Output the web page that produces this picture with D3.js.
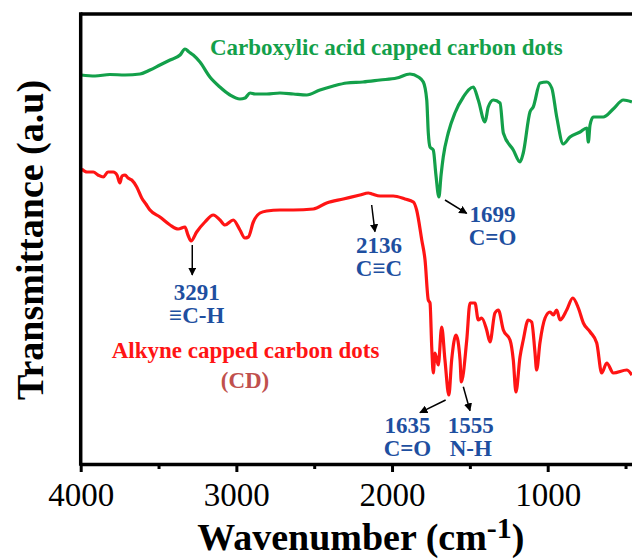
<!DOCTYPE html>
<html>
<head>
<meta charset="utf-8">
<script src="https://cdn.jsdelivr.net/npm/d3@7"></script>
<style>
  html, body { margin: 0; padding: 0; background: #fff; }
  svg { display: block; }
  text { font-family: "Liberation Serif", "Times New Roman", serif; }
</style>
</head>
<body>
<svg id="chart" width="632" height="559"></svg>
<script>
// FTIR spectra: wavenumber (cm-1) and transmittance (a.u., stacked offsets)
const carboxylWavenumber = [3998, 3908, 3812, 3715, 3619, 3555, 3491, 3426, 3362, 3330, 3304, 3277, 3234, 3170, 3106, 3041, 2977, 2944, 2912, 2880, 2805, 2720, 2634, 2548, 2463, 2377, 2291, 2187, 2077, 1970, 1885, 1831, 1799, 1777, 1767, 1756, 1735, 1718, 1699, 1685, 1671, 1639, 1596, 1542, 1478, 1446, 1403, 1382, 1349, 1306, 1285, 1221, 1178, 1157, 1114, 1093, 1049, 1006, 974, 942, 900, 857, 792, 749, 739, 728, 707, 643, 579, 514, 459];
const carboxylT = [38.9, 38.8, 38.95, 38.9, 39.0, 39.4, 39.9, 40.4, 40.9, 41.5, 41.2, 40.9, 40.2, 38.7, 37.7, 36.9, 36.5, 36.6, 37.1, 37.0, 37.0, 37.1, 37.0, 36.9, 37.4, 37.8, 38.1, 38.2, 38.4, 38.6, 39.0, 38.7, 38.2, 36.4, 33.1, 31.7, 31.4, 28.9, 26.7, 28.9, 30.7, 33.1, 35.1, 36.7, 37.7, 36.4, 34.2, 35.7, 36.4, 36.1, 33.1, 31.4, 30.2, 31.1, 35.2, 35.7, 38.1, 38.2, 37.6, 34.7, 32.0, 32.7, 33.2, 33.6, 32.2, 33.9, 34.7, 34.7, 35.5, 36.4, 36.2];

const alkyneWavenumber = [3994, 3960, 3919, 3889, 3855, 3825, 3791, 3767, 3748, 3735, 3715, 3696, 3672, 3640, 3608, 3581, 3555, 3491, 3426, 3373, 3330, 3311, 3291, 3255, 3202, 3148, 3105, 3073, 3020, 2977, 2945, 2923, 2891, 2848, 2805, 2720, 2634, 2506, 2420, 2313, 2206, 2152, 2129, 2077, 1992, 1917, 1863, 1842, 1809, 1788, 1767, 1756, 1745, 1735, 1724, 1703, 1681, 1660, 1635, 1617, 1589, 1563, 1555, 1520, 1499, 1467, 1446, 1424, 1392, 1371, 1339, 1317, 1285, 1242, 1221, 1204, 1178, 1157, 1125, 1103, 1082, 1071, 1050, 1017, 985, 964, 942, 921, 878, 839, 803, 771, 727, 685, 653, 621, 578, 492, 459];
const alkyneT = [29.5, 29.2, 29.2, 28.9, 28.7, 29.2, 29.2, 28.9, 28.1, 28.8, 28.9, 28.6, 28.4, 27.7, 26.6, 26.0, 25.4, 24.7, 23.9, 23.5, 23.7, 22.9, 22.3, 23.2, 24.2, 24.9, 24.4, 23.9, 24.4, 23.4, 22.6, 22.7, 24.2, 25.1, 25.3, 25.4, 25.4, 25.5, 26.1, 26.5, 26.9, 27.1, 27.0, 26.8, 26.8, 26.5, 26.2, 25.4, 22.4, 20.4, 16.4, 16.1, 11.7, 9.1, 11.1, 9.9, 13.7, 10.4, 6.9, 10.4, 12.9, 10.4, 8.2, 12.4, 16.1, 16.1, 14.4, 14.6, 13.4, 12.2, 15.1, 15.4, 13.4, 12.4, 10.4, 7.2, 10.7, 12.4, 14.4, 14.2, 11.2, 9.4, 12.1, 14.6, 15.2, 14.9, 15.4, 14.4, 15.4, 16.6, 15.6, 14.1, 13.2, 12.1, 9.1, 10.1, 9.1, 9.4, 8.9];

// Assigned bands
const peakWavenumbers = [3291, 2136, 1699, 1635, 1555];
const peakBonds = ["\u2261C-H", "C\u2261C", "C=O", "C=O", "N-H"];

const majorTicks = [4000, 3000, 2000, 1000];
const minorTicks = [3500, 2500, 1500, 500];

const svg = d3.select("#chart");
const plotLeft = 80.7, plotRight = 641.1, plotTop = 14, plotBottom = 464;

const x = d3.scaleLinear().domain([4000, 400]).range([plotLeft, plotRight]);
const y = d3.scaleLinear().domain([0, 45]).range([plotBottom, plotBottom - 450]);

const line = d3.line()
  .x(d => x(d[0]))
  .y(d => y(d[1]))
  .curve(d3.curveMonotoneX);

const green = "#13a04a", red = "#ff1414", blue = "#1e4fa0";

svg.append("path")
  .datum(d3.zip(carboxylWavenumber, carboxylT))
  .attr("d", line).attr("fill", "none")
  .attr("stroke", green).attr("stroke-width", 3.2).attr("stroke-linejoin", "round");

svg.append("path")
  .datum(d3.zip(alkyneWavenumber, alkyneT))
  .attr("d", line).attr("fill", "none")
  .attr("stroke", red).attr("stroke-width", 3.2).attr("stroke-linejoin", "round");

// Frame: left and top spines
svg.append("line").attr("x1", plotLeft).attr("x2", plotLeft).attr("y1", plotTop - 1.75).attr("y2", plotBottom + 1.75)
  .attr("stroke", "#000").attr("stroke-width", 3.5);
svg.append("line").attr("x1", plotLeft).attr("x2", plotRight).attr("y1", plotTop).attr("y2", plotTop)
  .attr("stroke", "#000").attr("stroke-width", 3.5);

// Bottom axis
const xAxis = svg.append("g").attr("transform", `translate(0,${plotBottom})`)
  .call(d3.axisBottom(x).tickValues(majorTicks).tickSize(8).tickSizeOuter(0).tickFormat(d3.format("d")));
xAxis.select(".domain").attr("stroke-width", 3.5);
xAxis.selectAll(".tick line").attr("stroke-width", 3);
xAxis.selectAll(".tick text")
  .attr("y", 42).attr("dy", null)
  .attr("font-size", 33).attr("fill", "#000")
  .style("font-family", "'Liberation Serif', 'Times New Roman', serif");

const xMinor = svg.append("g").attr("transform", `translate(0,${plotBottom})`)
  .call(d3.axisBottom(x).tickValues(minorTicks).tickSize(5).tickSizeOuter(0).tickFormat(""));
xMinor.select(".domain").remove();
xMinor.selectAll(".tick line").attr("stroke-width", 3);

// Axis titles
const xt = svg.append("text")
  .attr("x", (plotLeft + plotRight) / 2).attr("y", 550)
  .attr("text-anchor", "middle").attr("font-weight", "bold").attr("font-size", 38);
xt.append("tspan").text("Wavenumber (cm");
xt.append("tspan").attr("font-size", 30).attr("dy", -12).text("-1");
xt.append("tspan").attr("dy", 12).text(")");

svg.append("text")
  .attr("transform", "translate(43,240) rotate(-90)")
  .attr("text-anchor", "middle").attr("font-weight", "bold").attr("font-size", 38)
  .text("Transmittance (a.u)");

// Series labels
svg.append("text").attr("x", 210).attr("y", 55)
  .attr("font-weight", "bold").attr("font-size", 23).attr("fill", green)
  .text("Carboxylic acid capped carbon dots");
svg.append("text").attr("x", 111.7).attr("y", 358)
  .attr("font-weight", "bold").attr("font-size", 23).attr("fill", red)
  .text("Alkyne capped carbon dots");
svg.append("text").attr("x", 245).attr("y", 388).attr("text-anchor", "middle")
  .attr("font-weight", "bold").attr("font-size", 23).attr("fill", "#c0504d")
  .text("(CD)");

// Band annotations: arrow offsets and label placement relative to each band position
svg.append("defs").append("marker")
  .attr("id", "arrow").attr("viewBox", "0 0 10 10")
  .attr("refX", 9).attr("refY", 5)
  .attr("markerWidth", 5.5).attr("markerHeight", 5.5)
  .attr("markerUnits", "strokeWidth")
  .attr("orient", "auto")
  .append("path").attr("d", "M0,0 L10,5 L0,10 Z").attr("fill", "#000");

const annotLayout = [
  { ax1: 1.2, ay1: 245, ax2: 1.2, ay2: 275, tx: 5.6, ty: 300 },
  { ax1: 0.8, ay1: 205, ax2: 4.1, ay2: 231.7, tx: 8.1, ty: 253 },
  { ax1: 6.1, ay1: 200, ax2: 27.8, ay2: 213.3, tx: 53.6, ty: 222 },
  { ax1: -3.2, ay1: 400, ax2: -28.9, ay2: 412.7, tx: -41.4, ty: 433 },
  { ax1: 2.0, ay1: 386.7, ax2: 8.7, ay2: 410.7, tx: 9.5, ty: 433 }
];

peakWavenumbers.forEach((wn, i) => {
  const L = annotLayout[i], px = x(wn);
  svg.append("line")
    .attr("x1", px + L.ax1).attr("y1", L.ay1)
    .attr("x2", px + L.ax2).attr("y2", L.ay2)
    .attr("stroke", "#000").attr("stroke-width", 1.5)
    .attr("marker-end", "url(#arrow)");
  const t = svg.append("text").attr("text-anchor", "middle")
    .attr("font-weight", "bold").attr("font-size", 23).attr("fill", blue);
  t.append("tspan").attr("x", px + L.tx).attr("y", L.ty).text(wn);
  t.append("tspan").attr("x", px + L.tx).attr("y", L.ty + 23).text(peakBonds[i]);
});
</script>
</body>
</html>
